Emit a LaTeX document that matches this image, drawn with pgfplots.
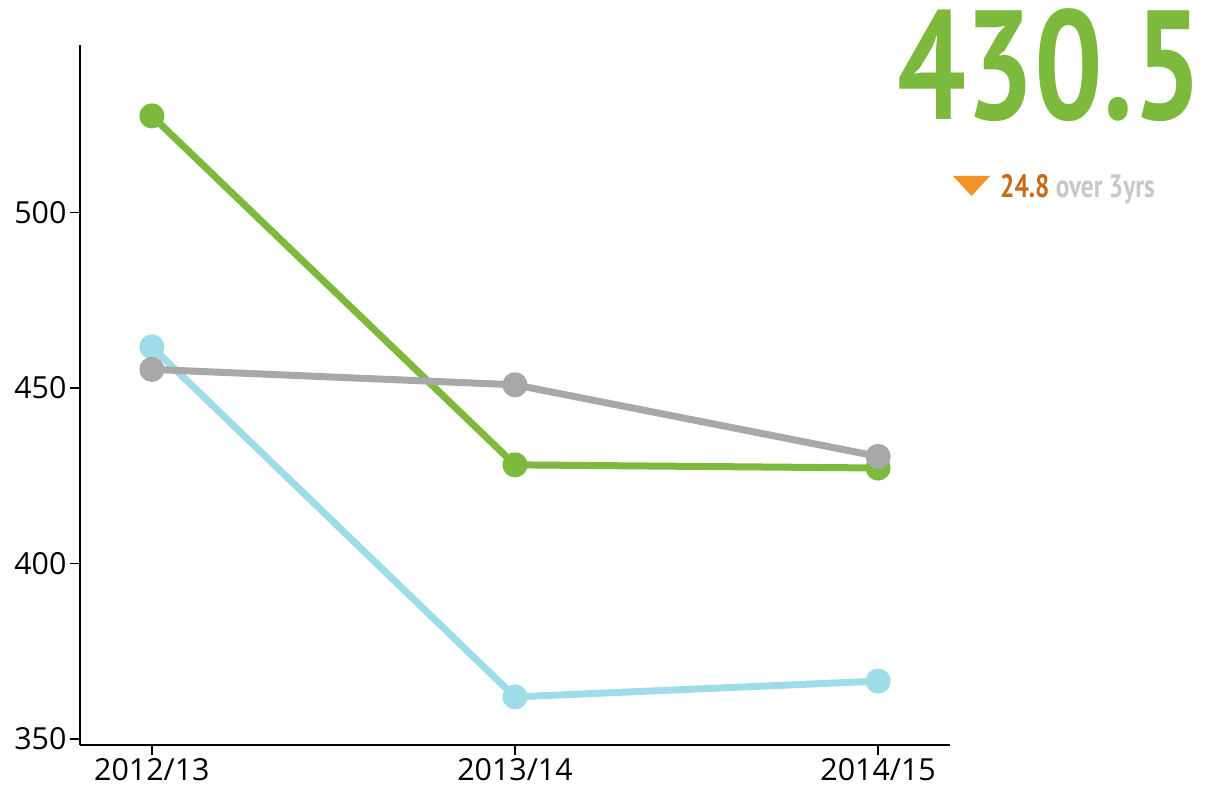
\documentclass[border=0pt]{standalone}
\usepackage{fontspec}
\setmainfont{Open Sans}
\newfontfamily\narrow[FakeStretch=0.78]{PT Sans}
\usepackage{pgfplots}
\pgfplotsset{compat=1.18}
\definecolor{cgreen}{HTML}{7DB93C}
\definecolor{cgrey}{HTML}{A8A8A8}
\definecolor{cblue}{HTML}{9EDDE8}
\definecolor{corange}{HTML}{F39325}
\definecolor{dorange}{HTML}{C96A1B}
\definecolor{lgrey}{HTML}{C8C8C8}
\begin{document}
\begin{tikzpicture}[x=1bp,y=1bp]
\begin{axis}[at={(0,0)},anchor=south west,
  width=870bp,height=700bp,scale only axis,
  xmin=-0.198,xmax=2.198,ymin=348.3,ymax=547.7,
  axis x line*=bottom, axis y line*=left,
  xtick={0,1,2}, xticklabels={2012/13,2013/14,2014/15},
  ytick={350,400,450,500},
  tick align=outside, major tick length=10bp,
  tick style={black,line width=1.5bp},
  axis line style={line width=1.5bp},
  tick label style={font=\fontsize{30.5}{36}\selectfont},
  /pgf/number format/assume math mode=true,
  clip=false]
\addplot[cblue, line width=7bp, mark=*, mark size=9bp, mark options={fill=cblue,draw=none}] coordinates {(0,461.7)(1,362.0)(2,366.5)};
\addplot[cgreen, line width=7bp, mark=*, mark size=9bp, mark options={fill=cgreen,draw=none}] coordinates {(0,527.5)(1,428.1)(2,427.2)};
\addplot[cgrey, line width=7bp, mark=*, mark size=9bp, mark options={fill=cgrey,draw=none}] coordinates {(0,455.3)(1,450.9)(2,430.5)};
\end{axis}
\node[anchor=base east, text=cgreen, font=\narrow\bfseries\fontsize{156}{160}\selectfont, inner sep=0] at (1122,625) {430.5};
\fill[corange] (873,569) -- (910,569) -- (891.5,549) -- cycle;
\node[anchor=base west, inner sep=0, font=\narrow\bfseries\fontsize{32.5}{36}\selectfont] at (920,547) {\textcolor{dorange}{24.8} \textcolor{lgrey}{over 3yrs}};
\path (-80,-49) rectangle (1133,745);
\end{tikzpicture}
\end{document}
